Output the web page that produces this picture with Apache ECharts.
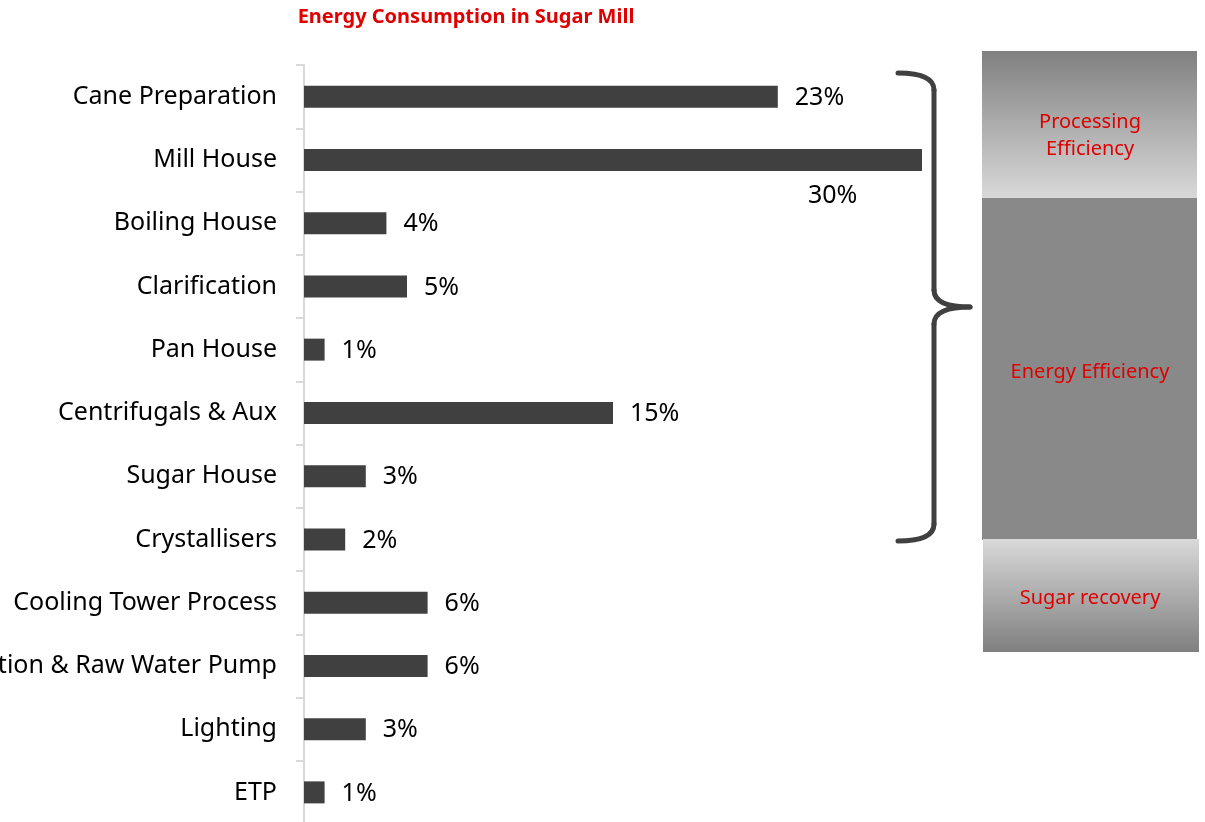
<!DOCTYPE html>
<html><head><meta charset="utf-8">
<script src="https://cdn.jsdelivr.net/npm/echarts@6/dist/echarts.min.js"></script>
<style>html,body{margin:0;padding:0;background:#fff}#c{width:1205px;height:822px}</style>
</head><body><div id="c"></div>
<script>
const categories = ["Cane Preparation","Mill House","Boiling House","Clarification","Pan House","Centrifugals & Aux","Sugar House","Crystallisers","Cooling Tower Process","Injection & Raw Water Pump","Lighting","ETP"];
const values = [23,30,4,5,1,15,3,2,6,6,3,1];
const title = "Energy Consumption in Sugar Mill";
const boxLabels = ["Processing\nEfficiency","Energy Efficiency","Sugar recovery"];

const FONT = "Noto Sans";
const chart = echarts.init(document.getElementById('c'), null, {renderer:'canvas'});
const data = values.map((v,i)=>{
  const d = {value:v};
  if (i===1) d.label = {position:[504,33]};
  return d;
});
const braceStyle = {fill:null,stroke:'#404040',lineWidth:5,lineCap:'round'};
chart.setOption({
  animation:false,
  title:{text:title,left:461,top:2,textAlign:'center',textStyle:{color:'#e00000',fontWeight:'bold',fontSize:20,fontFamily:FONT}},
  grid:{left:304,top:65,width:618,bottom:-2,containLabel:false,outerBoundsMode:'none'},
  xAxis:{type:'value',min:0,max:30,show:false},
  yAxis:{type:'category',data:categories,inverse:true,
    axisLine:{show:true,lineStyle:{color:'#d9d9d9',width:2}},
    axisTick:{show:true,length:8,lineStyle:{color:'#d9d9d9',width:2}},
    axisLabel:{color:'#000',fontSize:25,fontFamily:FONT,margin:27,padding:[2,0,0,0]}},
  series:[{type:'bar',data:data,barWidth:22,itemStyle:{color:'#404040'},
    label:{show:true,position:'right',distance:17,offset:[0,1],formatter:'{c}%',color:'#000',fontSize:25,fontFamily:FONT}}],
  graphic:[
    {type:'rect',shape:{x:982,y:51,width:215,height:147},style:{fill:new echarts.graphic.LinearGradient(0,0,0,1,[{offset:0,color:'#808080'},{offset:1,color:'#d9d9d9'}])}},
    {type:'rect',shape:{x:982,y:198,width:215,height:342},style:{fill:'#898989'}},
    {type:'rect',shape:{x:983,y:539,width:216,height:113},style:{fill:new echarts.graphic.LinearGradient(0,0,0,1,[{offset:0,color:'#d9d9d9'},{offset:1,color:'#7f7f7f'}])}},
    {type:'text',style:{x:1090,y:136,text:boxLabels[0],fill:'#e00000',fontSize:20,fontFamily:FONT,align:'center',verticalAlign:'middle',lineHeight:27}},
    {type:'text',style:{x:1090,y:372,text:boxLabels[1],fill:'#e00000',fontSize:20,fontFamily:FONT,align:'center',verticalAlign:'middle'}},
    {type:'text',style:{x:1090,y:598,text:boxLabels[2],fill:'#e00000',fontSize:20,fontFamily:FONT,align:'center',verticalAlign:'middle'}},
    {type:'bezierCurve',shape:{x1:898,y1:73,cpx1:934,cpy1:73,x2:934,y2:90},style:braceStyle},
    {type:'line',shape:{x1:934,y1:90,x2:934,y2:290},style:braceStyle},
    {type:'bezierCurve',shape:{x1:934,y1:290,cpx1:934,cpy1:307,x2:970,y2:307},style:braceStyle},
    {type:'bezierCurve',shape:{x1:970,y1:307,cpx1:934,cpy1:307,x2:934,y2:324},style:braceStyle},
    {type:'line',shape:{x1:934,y1:324,x2:934,y2:524},style:braceStyle},
    {type:'bezierCurve',shape:{x1:934,y1:524,cpx1:934,cpy1:541,x2:898,y2:541},style:braceStyle}
  ]
});
</script></body></html>
